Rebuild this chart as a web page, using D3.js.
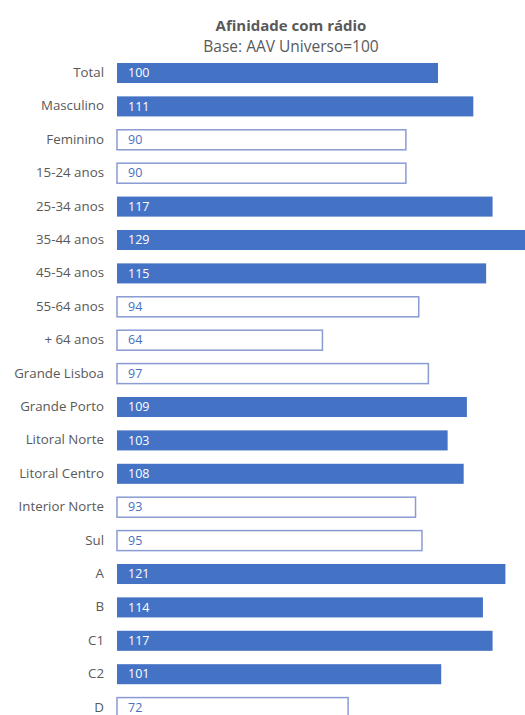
<!DOCTYPE html>
<html>
<head>
<meta charset="utf-8">
<script src="https://cdn.jsdelivr.net/npm/d3@7"></script>
<style>
  html, body { margin: 0; padding: 0; background: #ffffff; overflow: hidden; }
  svg { display: block; }
</style>
</head>
<body>
<svg id="chart" width="525" height="715"></svg>
<script>
const categories = ["Total","Masculino","Feminino","15-24 anos","25-34 anos","35-44 anos","45-54 anos","55-64 anos","+ 64 anos","Grande Lisboa","Grande Porto","Litoral Norte","Litoral Centro","Interior Norte","Sul","A","B","C1","C2","D"];
const values = [100,111,90,90,117,129,115,94,64,97,109,103,108,93,95,121,114,117,101,72];
const title = "Afinidade com rádio";
const subtitle = "Base: AAV Universo=100";

const svg = d3.select("#chart");
const font = "'Open Sans', sans-serif";
const fill = "#4472C4";

const x = d3.scaleLinear().domain([0, 100]).range([117, 438]);
const y = d3.scaleBand().domain(categories).range([56.3, 56.3 + 33.4 * categories.length]).paddingInner(0.4).paddingOuter(0.2);

svg.append("text").attr("x", 291).attr("y", 31).attr("text-anchor", "middle")
  .attr("font-family", font).attr("font-weight", "bold").attr("font-size", 15)
  .attr("fill", "#595959").text(title);
svg.append("text").attr("x", 291).attr("y", 52).attr("text-anchor", "middle")
  .attr("font-family", font).attr("font-size", 15.5)
  .attr("fill", "#595959").text(subtitle);

const rows = svg.append("g").selectAll("g").data(categories.map((c, i) => ({c, v: values[i]}))).join("g");

rows.append("rect")
  .attr("x", x(0))
  .attr("y", d => y(d.c))
  .attr("width", d => x(d.v) - x(0))
  .attr("height", y.bandwidth())
  .attr("fill", d => d.v >= 100 ? fill : "#ffffff")
  .attr("stroke", d => d.v >= 100 ? "none" : "#8a9bd3")
  .attr("stroke-width", 1.5);

rows.append("text")
  .attr("x", x(0) + 11)
  .attr("y", d => y(d.c) + y.bandwidth() / 2)
  .attr("dy", "0.34em")
  .attr("font-family", font).attr("font-size", 12.5)
  .attr("fill", d => d.v >= 100 ? "#ffffff" : "#4a6fc0")
  .text(d => d.v);

const yAxis = svg.append("g").attr("transform", "translate(104,0)")
  .call(d3.axisLeft(y).tickSize(0).tickPadding(0));
yAxis.select(".domain").remove();
yAxis.selectAll("text").attr("font-family", font).attr("font-size", 13.3).attr("dy", "0.3em").attr("fill", "#595959");
</script>
</body>
</html>
